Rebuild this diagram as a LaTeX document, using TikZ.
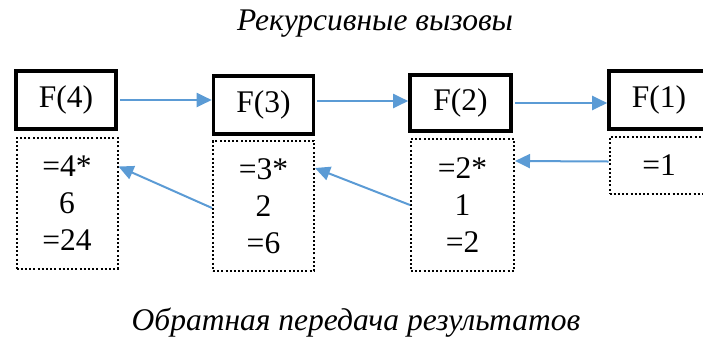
\documentclass[tikz,border=0pt]{standalone}
\usepackage{fontspec}
\setmainfont{Liberation Serif}
\usetikzlibrary{arrows.meta}
\definecolor{arrblue}{RGB}{91,155,213}

\begin{document}
\begin{tikzpicture}[x=1pt, y=-1pt,
    every node/.style={font=\fontsize{31.5}{37}\selectfont},
    fbox/.style={draw, line width=3.6pt, minimum width=100pt, minimum height=58pt, inner sep=0pt},
    dbox/.style={draw, line width=2pt, dash pattern=on 2pt off 2.2pt, minimum width=101pt, inner sep=0pt, align=center},
    arr/.style={draw=arrblue, line width=2pt, -{Triangle[length=15pt, width=14pt]}}]
      \useasboundingbox (0,0) rectangle (703,341);

      \node at (375,24) (top) {\itshape Рекурсивные вызовы};
      \node at (356,323) (bottom) {\itshape Обратная передача результатов};

      \node[fbox] at (66,100) (f4) {F(4)};
      \node[fbox] at (263.5,105) (f3) {F(3)};
      \node[fbox, minimum width=101pt, minimum height=56pt] at (460.5,103) (f2) {F(2)};
      \node[fbox] at (659,100) (f1) {F(1)};

      \node[dbox, minimum height=131pt] at (67,203.5) (d4) {=4*\\6\\=24};
      \node[dbox, minimum height=130pt] at (263.5,206) (d3) {=3*\\2\\=6};
      \node[dbox, minimum width=103pt, minimum height=132pt] at (462.5,205) (d2) {=2*\\1\\=2};
      \node[dbox, minimum width=99pt, minimum height=57pt] at (659,165.5) (d1) {=1};

      \draw[arr] ([xshift=2pt]f4.east) -- (f3.west |- f4.east);
      \draw[arr] ([xshift=2pt, yshift=4pt]f3.east) -- ([yshift=2pt]f2.west);
      \draw[arr] ([xshift=2pt]f2.east) -- (f1.west |- f2.east);

      \draw[arr] ([yshift=-2pt]d3.west) -- ([yshift=37pt]d4.east);
      \draw[arr] (d2.west) -- ([yshift=38pt]d3.east);
      \draw[arr] ([yshift=4pt]d1.west) -- ([yshift=44pt]d2.east);
    \end{tikzpicture}
\end{document}
